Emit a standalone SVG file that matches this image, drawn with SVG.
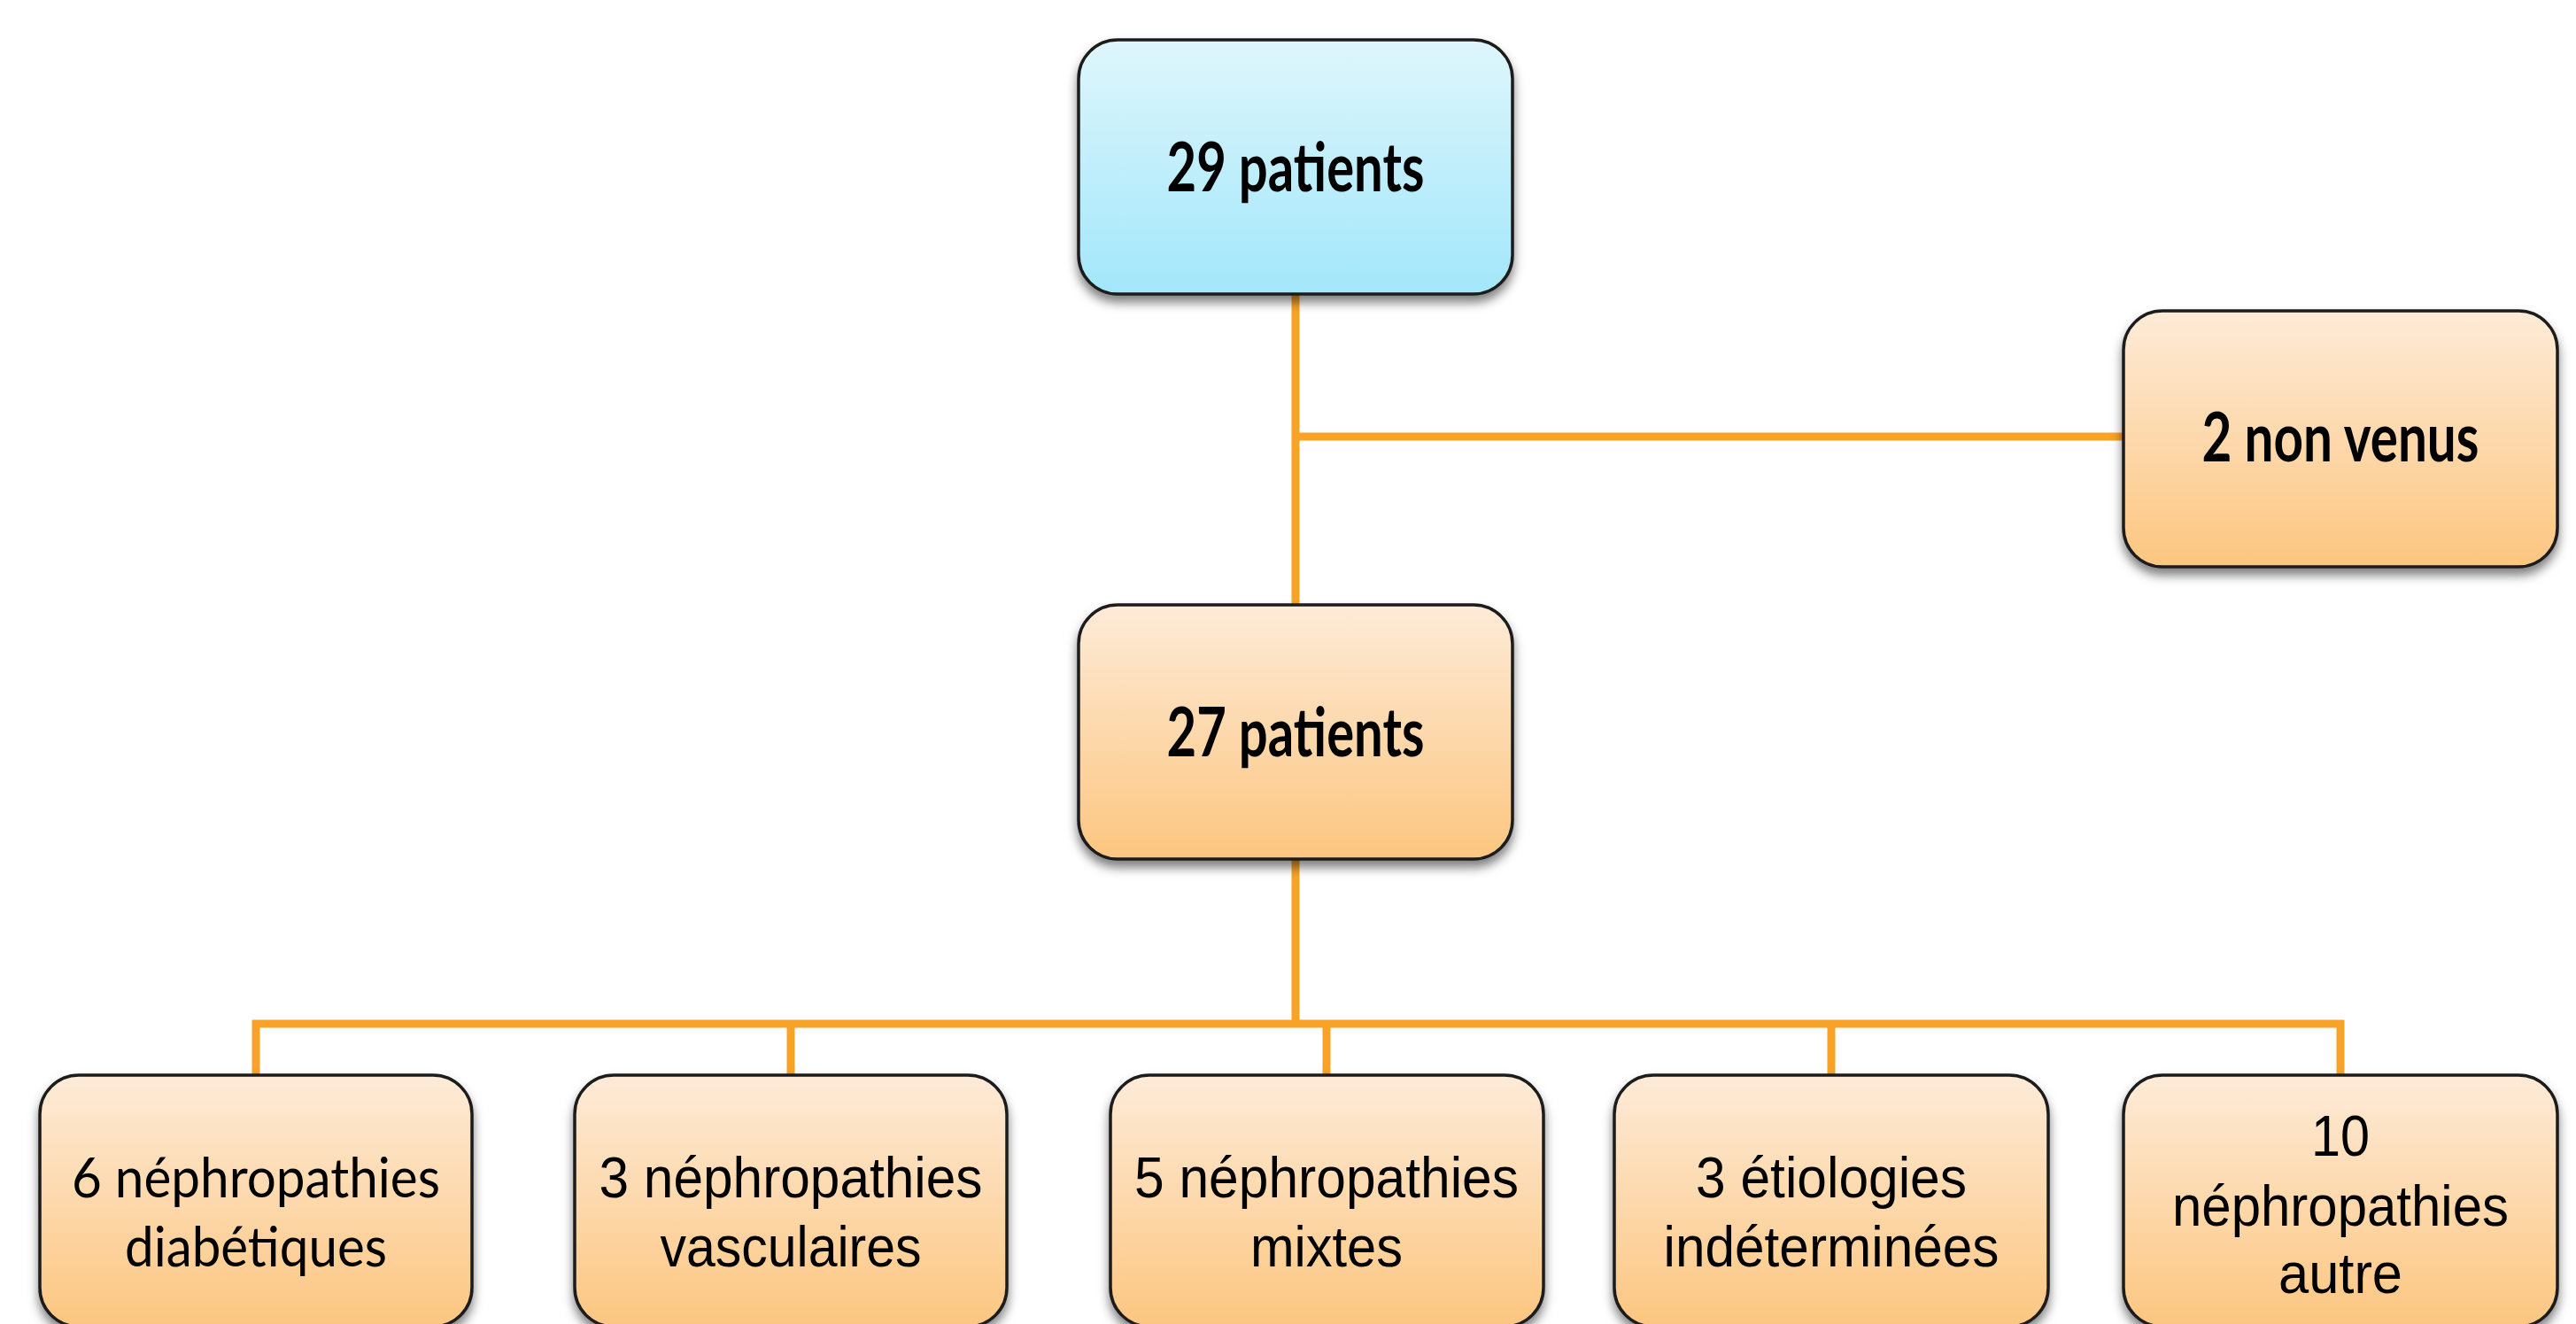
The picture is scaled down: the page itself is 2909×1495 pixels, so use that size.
<svg xmlns="http://www.w3.org/2000/svg" width="2909" height="1495" viewBox="0 0 2909 1495">
  <defs>
    <linearGradient id="gOrange" x1="0" y1="0" x2="0" y2="1">
      <stop offset="0" stop-color="#FDEBD8"/>
      <stop offset="1" stop-color="#FCC680"/>
    </linearGradient>
    <linearGradient id="gBlue" x1="0" y1="0" x2="0" y2="1">
      <stop offset="0" stop-color="#DFF6FC"/>
      <stop offset="1" stop-color="#A2E7FA"/>
    </linearGradient>
    <filter id="shadow" x="-10%" y="-10%" width="120%" height="130%">
      <feDropShadow dx="0" dy="8" stdDeviation="6" flood-color="#000" flood-opacity="0.5"/>
    </filter>
  </defs>
  <style>
    .box { stroke: #1b1b1b; stroke-width: 3.5; filter: url(#shadow); }
    .orange { fill: url(#gOrange); }
    .blue { fill: url(#gBlue); }
    .conn { stroke: #F8A228; stroke-width: 9; fill: none; stroke-linecap: butt; }
    .bold { font-family: Lato, "Open Sans", sans-serif; font-weight: bold; font-size: 76px; fill: #000; text-anchor: middle; }
    .cal { font-family: Lato, "Open Sans", sans-serif; font-size: 62px; fill: #000; text-anchor: middle; }
    .ari { font-family: "Liberation Sans", Arial, sans-serif; font-size: 64px; fill: #000; text-anchor: middle; }
  </style>
  <rect width="2909" height="1495" fill="#fff"/>
  <g id="connectors">
    <line class="conn" x1="1463" y1="332" x2="1463" y2="683"/>
    <line class="conn" x1="1463" y1="493" x2="2398" y2="493"/>
    <line class="conn" x1="1463" y1="970" x2="1463" y2="1156"/>
    <line class="conn" x1="285" y1="1156" x2="2647" y2="1156"/>
    <line class="conn" x1="289" y1="1152" x2="289" y2="1214"/>
    <line class="conn" x1="893" y1="1156" x2="893" y2="1214"/>
    <line class="conn" x1="1498" y1="1156" x2="1498" y2="1214"/>
    <line class="conn" x1="2068" y1="1156" x2="2068" y2="1214"/>
    <line class="conn" x1="2643" y1="1152" x2="2643" y2="1214"/>
  </g>
  <g id="node-29">
    <rect class="box blue" x="1218" y="45" width="490" height="287" rx="44"/>
    <text class="bold" x="1463" y="216" textLength="291" lengthAdjust="spacingAndGlyphs">29 patients</text>
  </g>
  <g id="node-nonvenus">
    <rect class="box orange" x="2398" y="351" width="490" height="289" rx="44"/>
    <text class="bold" x="2643" y="521" textLength="313" lengthAdjust="spacingAndGlyphs">2 non venus</text>
  </g>
  <g id="node-27">
    <rect class="box orange" x="1218" y="683" width="490" height="287" rx="44"/>
    <text class="bold" x="1463" y="854" textLength="291" lengthAdjust="spacingAndGlyphs">27 patients</text>
  </g>
  <g id="node-diabetiques">
    <rect class="box orange" x="45" y="1214" width="488" height="284" rx="44"/>
    <text class="cal" x="289" y="1352" textLength="416" lengthAdjust="spacingAndGlyphs">6 néphropathies</text>
    <text class="cal" x="289" y="1430" textLength="296" lengthAdjust="spacingAndGlyphs">diabétiques</text>
  </g>
  <g id="node-vasculaires">
    <rect class="box orange" x="649" y="1214" width="488" height="284" rx="44"/>
    <text class="ari" x="893" y="1352" textLength="433" lengthAdjust="spacingAndGlyphs">3 néphropathies</text>
    <text class="ari" x="893" y="1430" textLength="295" lengthAdjust="spacingAndGlyphs">vasculaires</text>
  </g>
  <g id="node-mixtes">
    <rect class="box orange" x="1254" y="1214" width="489" height="284" rx="44"/>
    <text class="ari" x="1498" y="1352" textLength="434" lengthAdjust="spacingAndGlyphs">5 néphropathies</text>
    <text class="ari" x="1498" y="1430" textLength="172" lengthAdjust="spacingAndGlyphs">mixtes</text>
  </g>
  <g id="node-indeterminees">
    <rect class="box orange" x="1823" y="1214" width="490" height="284" rx="44"/>
    <text class="ari" x="2068" y="1352" textLength="306" lengthAdjust="spacingAndGlyphs">3 étiologies</text>
    <text class="ari" x="2068" y="1430" textLength="379" lengthAdjust="spacingAndGlyphs">indéterminées</text>
  </g>
  <g id="node-autre">
    <rect class="box orange" x="2398" y="1214" width="490" height="284" rx="44"/>
    <text class="ari" x="2643" y="1305" textLength="66" lengthAdjust="spacingAndGlyphs">10</text>
    <text class="ari" x="2643" y="1384" textLength="380" lengthAdjust="spacingAndGlyphs">néphropathies</text>
    <text class="ari" x="2643" y="1460" textLength="140" lengthAdjust="spacingAndGlyphs">autre</text>
  </g>
</svg>
